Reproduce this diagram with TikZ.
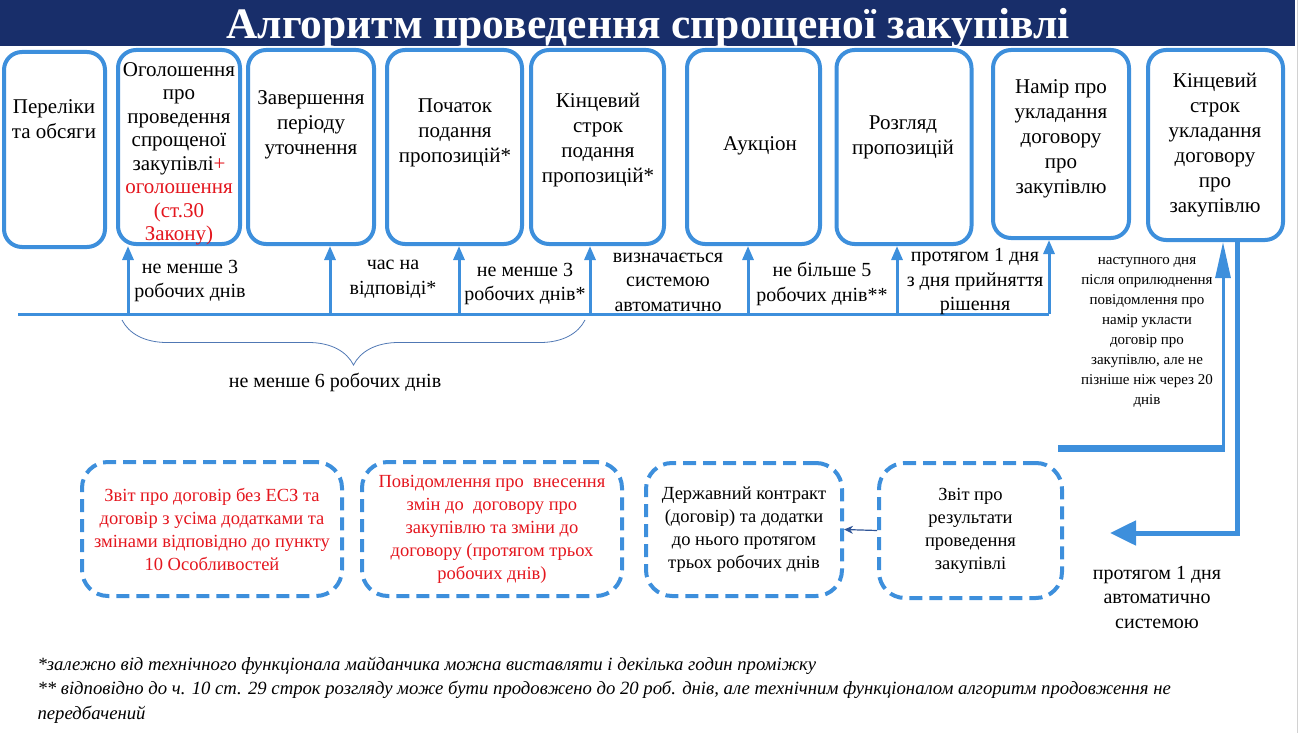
\documentclass[tikz,border=0pt]{standalone}
\usepackage{fontspec}
\setmainfont{Liberation Serif}
\usetikzlibrary{arrows.meta,decorations.pathreplacing,positioning}
\definecolor{stageblue}{RGB}{61,143,220}
\definecolor{titlenavy}{RGB}{24,46,106}
\definecolor{lawred}{RGB}{228,22,30}
\definecolor{linkblue}{RGB}{47,85,151}
\definecolor{bracegray}{RGB}{80,120,180}
\newcommand{\fsz}[2]{\fontsize{#1}{#2}\selectfont}

\begin{document}
\begin{tikzpicture}[x=1pt,y=-1pt,
  stage/.style={draw=stageblue,line width=4pt,rounded corners=18pt,fill=white},
  stagetext/.style={align=center,font=\fsz{21}{25}},
  term/.style={align=center,font=\fsz{20}{24.5}},
  tick/.style={draw=stageblue,line width=3pt,-{Triangle[width=11pt,length=14pt]}},
  report/.style={draw=stageblue,line width=4pt,dash pattern=on 13pt off 7pt,
    rounded corners=26pt,align=center,font=\fsz{18.5}{23}}]

\useasboundingbox (0,0) rectangle (1301,733);

% title
\fill[titlenavy] (0,0) rectangle (1295,46);
\draw[gray!35] (1297.5,0) -- (1297.5,733);
\node[text=white,font=\bfseries\fsz{43.5}{43.5}] (title) at (648,28) {Алгоритм проведення спрощеної закупівлі};

% stages
\node[stage,minimum width=101pt,minimum height=195pt] (p1) at (54.5,149.5) {};
\node[stage,minimum width=122pt,minimum height=194pt] (p2) at (179,147) {};
\node[stage,minimum width=126pt,minimum height=194pt] (p3) at (311,147) {};
\node[stage,minimum width=135pt,minimum height=194pt] (p4) at (454.5,147) {};
\node[stage,minimum width=133pt,minimum height=194pt] (p5) at (597.5,147) {};
\node[stage,minimum width=133pt,minimum height=194pt] (p6) at (753.5,147) {};
\node[stage,minimum width=135pt,minimum height=194pt] (p7) at (904,147) {};
\node[stage,minimum width=136pt,minimum height=188pt] (p8) at (1061,144) {};
\node[stage,minimum width=135pt,minimum height=190pt] (p9) at (1215.5,145) {};

\node[stagetext] (p1t) at (54,119) {Переліки\\та обсяги};
\node[stagetext,font=\fsz{21}{23.5}] (p2t) at (179,154) {Оголошення\\про\\проведення\\спрощеної\\закупівлі\textcolor{lawred}{+}\\
  \textcolor{lawred}{оголошення}\\\textcolor{lawred}{(ст.30}\\\textcolor{lawred}{Закону)}};
\node[stagetext] (p3t) at (311,125) {Завершення\\періоду\\уточнення};
\node[stagetext] (p4t) at (455,133) {Початок\\подання\\пропозицій*};
\node[stagetext] (p5t) at (598,140) {Кінцевий\\строк\\подання\\пропозицій*};
\node[stagetext] (p6t) at (760,146) {Аукціон};
\node[stagetext] (p7t) at (903,137) {Розгляд\\пропозицій};
\node[stagetext] (p8t) at (1061,139) {Намір про\\укладання\\договору\\про\\закупівлю};
\node[stagetext] (p9t) at (1215,145) {Кінцевий\\строк\\укладання\\договору\\про\\закупівлю};

% time line
\coordinate (t0) at (18,314);
\coordinate (t1) at (128,314);
\coordinate (t2) at (330,314);
\coordinate (t3) at (459,314);
\coordinate (t4) at (590,314);
\coordinate (t5) at (748,314);
\coordinate (t6) at (897,314);
\coordinate (t7) at (1049,314);
\draw[stageblue,line width=3pt] (t0) -- (t7);
\foreach \t/\p in {t1/p2,t2/p3,t3/p4,t4/p5,t5/p6,t6/p7,t7/p8}
  \draw[tick] (\t) -- (\t |- \p.south);

\node[term] at (190,281) {не менше 3\\робочих днів};
\node[term] at (393,279) {час на\\відповіді*};
\node[term] at (525,284) {не менше 3\\робочих днів*};
\node[term] at (668,282) {визначається\\системою\\автоматично};
\node[term] at (822,284) {не більше 5\\робочих днів**};
\node[term] at (975,282) {протягом 1 дня\\з дня прийняття\\рішення};
\node[align=center,font=\fsz{15}{20}] at (1147,332) {наступного дня\\після оприлюднення\\повідомлення про\\намір укласти\\договір про\\закупівлю, але не\\пізніше ніж через 20\\днів};

\draw[bracegray,line width=0.8pt,decorate,decoration={brace,amplitude=45pt}] (585,320) -- (122,320);
\node[term] at (335,382) {не менше 6 робочих днів};

% contract deadline loop
\coordinate (fb) at (1058,448);
\coordinate (up) at (1223,448);
\coordinate (dn) at (1237,533);
\coordinate (dnend) at (1110,533);
\draw[stageblue,line width=7pt] (fb) -- ([xshift=2pt]up);
\draw[stageblue,line width=3pt,-{Triangle[width=15pt,length=36pt]}] (up) -- (up |- p9.south);
\draw[stageblue,line width=5pt,-{Triangle[width=24pt,length=26pt]}] (dn |- p9.south) -- (dn) -- (dnend);
\node[term] at (1157,597) {протягом 1 дня\\автоматично\\системою};

% reports
\node[report,minimum width=260pt,minimum height=134pt,text=lawred] (r1) at (212,529) {Звіт про договір без ЕСЗ та\\договір з усіма додатками та\\змінами відповідно до пункту\\10 Особливостей};
\node[report,minimum width=260pt,minimum height=134pt,text=lawred] (r2) at (492,529) {Повідомлення про\ \ внесення\\змін до\ \ договору про\\закупівлю та зміни до\\договору (протягом трьох\\робочих днів)};
\node[report,minimum width=196pt,minimum height=133pt] (r3) at (744,529.5) {Державний контракт\\(договір) та додатки\\до нього протягом\\трьох робочих днів};
\node[report,minimum width=183pt,minimum height=135pt] (r4) at (970.5,530.5) {Звіт про\\результати\\проведення\\закупівлі};
\draw[linkblue,line width=1.2pt,-{Stealth[length=9pt,width=8pt]}] (r4.west) -- (r3.east);

% notes
\node[anchor=west,align=left,font=\itshape\fsz{18.7}{24.5}] (notes) at (34,690) {*залежно від технічного функціонала майданчика можна виставляти і декілька годин проміжку\\** відповідно до ч. 10 ст. 29 строк розгляду може бути продовжено до 20 роб. днів, але технічним функціоналом алгоритм продовження не\\передбачений};
\end{tikzpicture}
\end{document}
